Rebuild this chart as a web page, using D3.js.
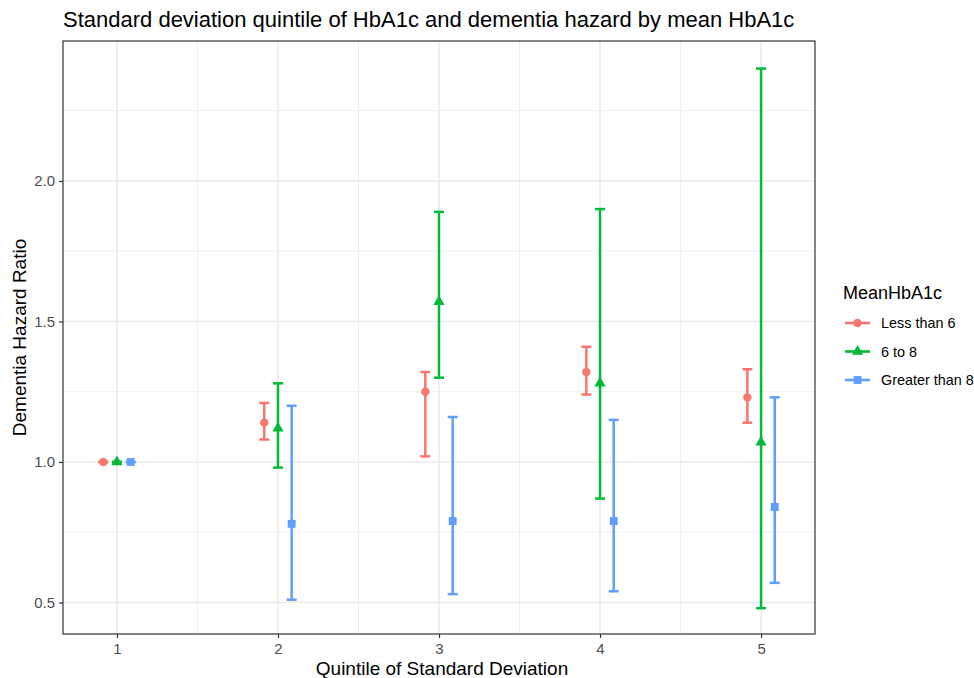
<!DOCTYPE html>
<html>
<head>
<meta charset="utf-8">
<script src="https://cdn.jsdelivr.net/npm/d3@7"></script>
<style>
  body { margin: 0; background: #fff; }
  text { font-family: "Liberation Sans", Arial, sans-serif; }
</style>
</head>
<body>
<div id="chart"></div>
<script>
// Data
const quintiles = [1, 2, 3, 4, 5];
const groups = ['Less than 6', '6 to 8', 'Greater than 8'];
const colors = ['#F8766D', '#00BA38', '#619CFF'];
const shapes = [d3.symbolCircle, d3.symbolTriangle, d3.symbolSquare];

const hrLess6 = [1.00, 1.14, 1.25, 1.32, 1.23];
const loLess6 = [1.00, 1.08, 1.02, 1.24, 1.14];
const hiLess6 = [1.00, 1.21, 1.32, 1.41, 1.33];

const hr6to8 = [1.00, 1.12, 1.57, 1.28, 1.07];
const lo6to8 = [1.00, 0.98, 1.30, 0.87, 0.48];
const hi6to8 = [1.00, 1.28, 1.89, 1.90, 2.40];

const hrOver8 = [1.00, 0.78, 0.79, 0.79, 0.84];
const loOver8 = [1.00, 0.51, 0.53, 0.54, 0.57];
const hiOver8 = [1.00, 1.20, 1.16, 1.15, 1.23];

const yTicks = [0.5, 1.0, 1.5, 2.0];
const yMinor = [0.75, 1.25, 1.75, 2.25];
const xMinor = [1.5, 2.5, 3.5, 4.5];

const series = [
  { hr: hrLess6, lo: loLess6, hi: hiLess6 },
  { hr: hr6to8, lo: lo6to8, hi: hi6to8 },
  { hr: hrOver8, lo: loOver8, hi: hiOver8 }
];
const dodge = [-0.085, 0, 0.085];
const capWidth = 0.062;

const rows = [];
series.forEach((s, g) => {
  quintiles.forEach((q, i) => {
    rows.push({ g: g, x: q + dodge[g], hr: s.hr[i], lo: s.lo[i], hi: s.hi[i] });
  });
});

const width = 974, height = 678;
const panel = { left: 63, right: 815, top: 41, bottom: 634 };

const svg = d3.select('#chart').append('svg')
  .attr('width', width)
  .attr('height', height);

const x = d3.scaleLinear().domain([0.665, 5.335]).range([panel.left, panel.right]);
const y = d3.scaleLinear().domain([0.388, 2.498]).range([panel.bottom, panel.top]);

// grid
const grid = svg.append('g');
grid.selectAll('.ymin').data(yMinor).enter().append('line')
  .attr('x1', panel.left).attr('x2', panel.right)
  .attr('y1', d => y(d)).attr('y2', d => y(d))
  .attr('stroke', '#ebebeb').attr('stroke-width', 0.8);
grid.selectAll('.xmin').data(xMinor).enter().append('line')
  .attr('y1', panel.top).attr('y2', panel.bottom)
  .attr('x1', d => x(d)).attr('x2', d => x(d))
  .attr('stroke', '#ebebeb').attr('stroke-width', 0.8);
grid.selectAll('.ymaj').data(yTicks).enter().append('line')
  .attr('x1', panel.left).attr('x2', panel.right)
  .attr('y1', d => y(d)).attr('y2', d => y(d))
  .attr('stroke', '#ebebeb').attr('stroke-width', 1.6);
grid.selectAll('.xmaj').data(quintiles).enter().append('line')
  .attr('y1', panel.top).attr('y2', panel.bottom)
  .attr('x1', d => x(d)).attr('x2', d => x(d))
  .attr('stroke', '#ebebeb').attr('stroke-width', 1.6);

// axes
const xAxis = svg.append('g')
  .attr('transform', `translate(0,${panel.bottom})`)
  .call(d3.axisBottom(x).tickValues(quintiles).tickFormat(d3.format('d')).tickSize(4).tickPadding(5));
const yAxis = svg.append('g')
  .attr('transform', `translate(${panel.left},0)`)
  .call(d3.axisLeft(y).tickValues(yTicks).tickFormat(d3.format('.1f')).tickSize(4).tickPadding(4));
[xAxis, yAxis].forEach(a => {
  a.select('.domain').remove();
  a.selectAll('.tick line').attr('stroke', '#333333').attr('stroke-width', 1.2);
  a.selectAll('.tick text').attr('fill', '#4d4d4d').style('font-size', '15px')
    .style('font-family', '"Liberation Sans", Arial, sans-serif');
});

// error bars
const bars = svg.append('g');
bars.selectAll('.stem').data(rows).enter().append('line')
  .attr('x1', d => x(d.x)).attr('x2', d => x(d.x))
  .attr('y1', d => y(d.lo)).attr('y2', d => y(d.hi))
  .attr('stroke', d => colors[d.g]).attr('stroke-width', 2.5);
['lo', 'hi'].forEach(k => {
  bars.selectAll('.cap-' + k).data(rows).enter().append('line')
    .attr('x1', d => x(d.x - capWidth / 2)).attr('x2', d => x(d.x + capWidth / 2))
    .attr('y1', d => y(d[k])).attr('y2', d => y(d[k]))
    .attr('stroke', d => colors[d.g]).attr('stroke-width', 2.5);
});

// points
const symSize = [55, 55, 62];
bars.selectAll('.pt').data(rows).enter().append('path')
  .attr('transform', d => `translate(${x(d.x)},${y(d.hr)})`)
  .attr('d', d => d3.symbol().type(shapes[d.g]).size(symSize[d.g])())
  .attr('fill', d => colors[d.g]);

// panel border
svg.append('rect')
  .attr('x', panel.left).attr('y', panel.top)
  .attr('width', panel.right - panel.left).attr('height', panel.bottom - panel.top)
  .attr('fill', 'none').attr('stroke', '#333333').attr('stroke-width', 1.2);

// titles
svg.append('text')
  .attr('x', panel.left).attr('y', 27)
  .style('font-size', '22px').attr('fill', '#000')
  .text('Standard deviation quintile of HbA1c and dementia hazard by mean HbA1c');
svg.append('text')
  .attr('x', 442).attr('y', 675)
  .attr('text-anchor', 'middle')
  .style('font-size', '19px').attr('fill', '#000')
  .text('Quintile of Standard Deviation');
svg.append('text')
  .attr('transform', `translate(26,${(panel.top + panel.bottom) / 2}) rotate(-90)`)
  .attr('text-anchor', 'middle')
  .style('font-size', '19px').attr('fill', '#000')
  .text('Dementia Hazard Ratio');

// legend
const legend = svg.append('g').attr('transform', 'translate(835,0)');
legend.append('text')
  .attr('x', 8).attr('y', 299)
  .style('font-size', '18px').attr('fill', '#000')
  .text('MeanHbA1c');
groups.forEach((name, i) => {
  const cy = 323 + i * 28.5;
  legend.append('line')
    .attr('x1', 10).attr('x2', 35).attr('y1', cy).attr('y2', cy)
    .attr('stroke', colors[i]).attr('stroke-width', 2.6);
  legend.append('path')
    .attr('transform', `translate(22.5,${cy})`)
    .attr('d', d3.symbol().type(shapes[i]).size(symSize[i])())
    .attr('fill', colors[i]);
  legend.append('text')
    .attr('x', 46).attr('y', cy + 5)
    .style('font-size', '14.4px').attr('fill', '#000')
    .text(name);
});
</script>
</body>
</html>
